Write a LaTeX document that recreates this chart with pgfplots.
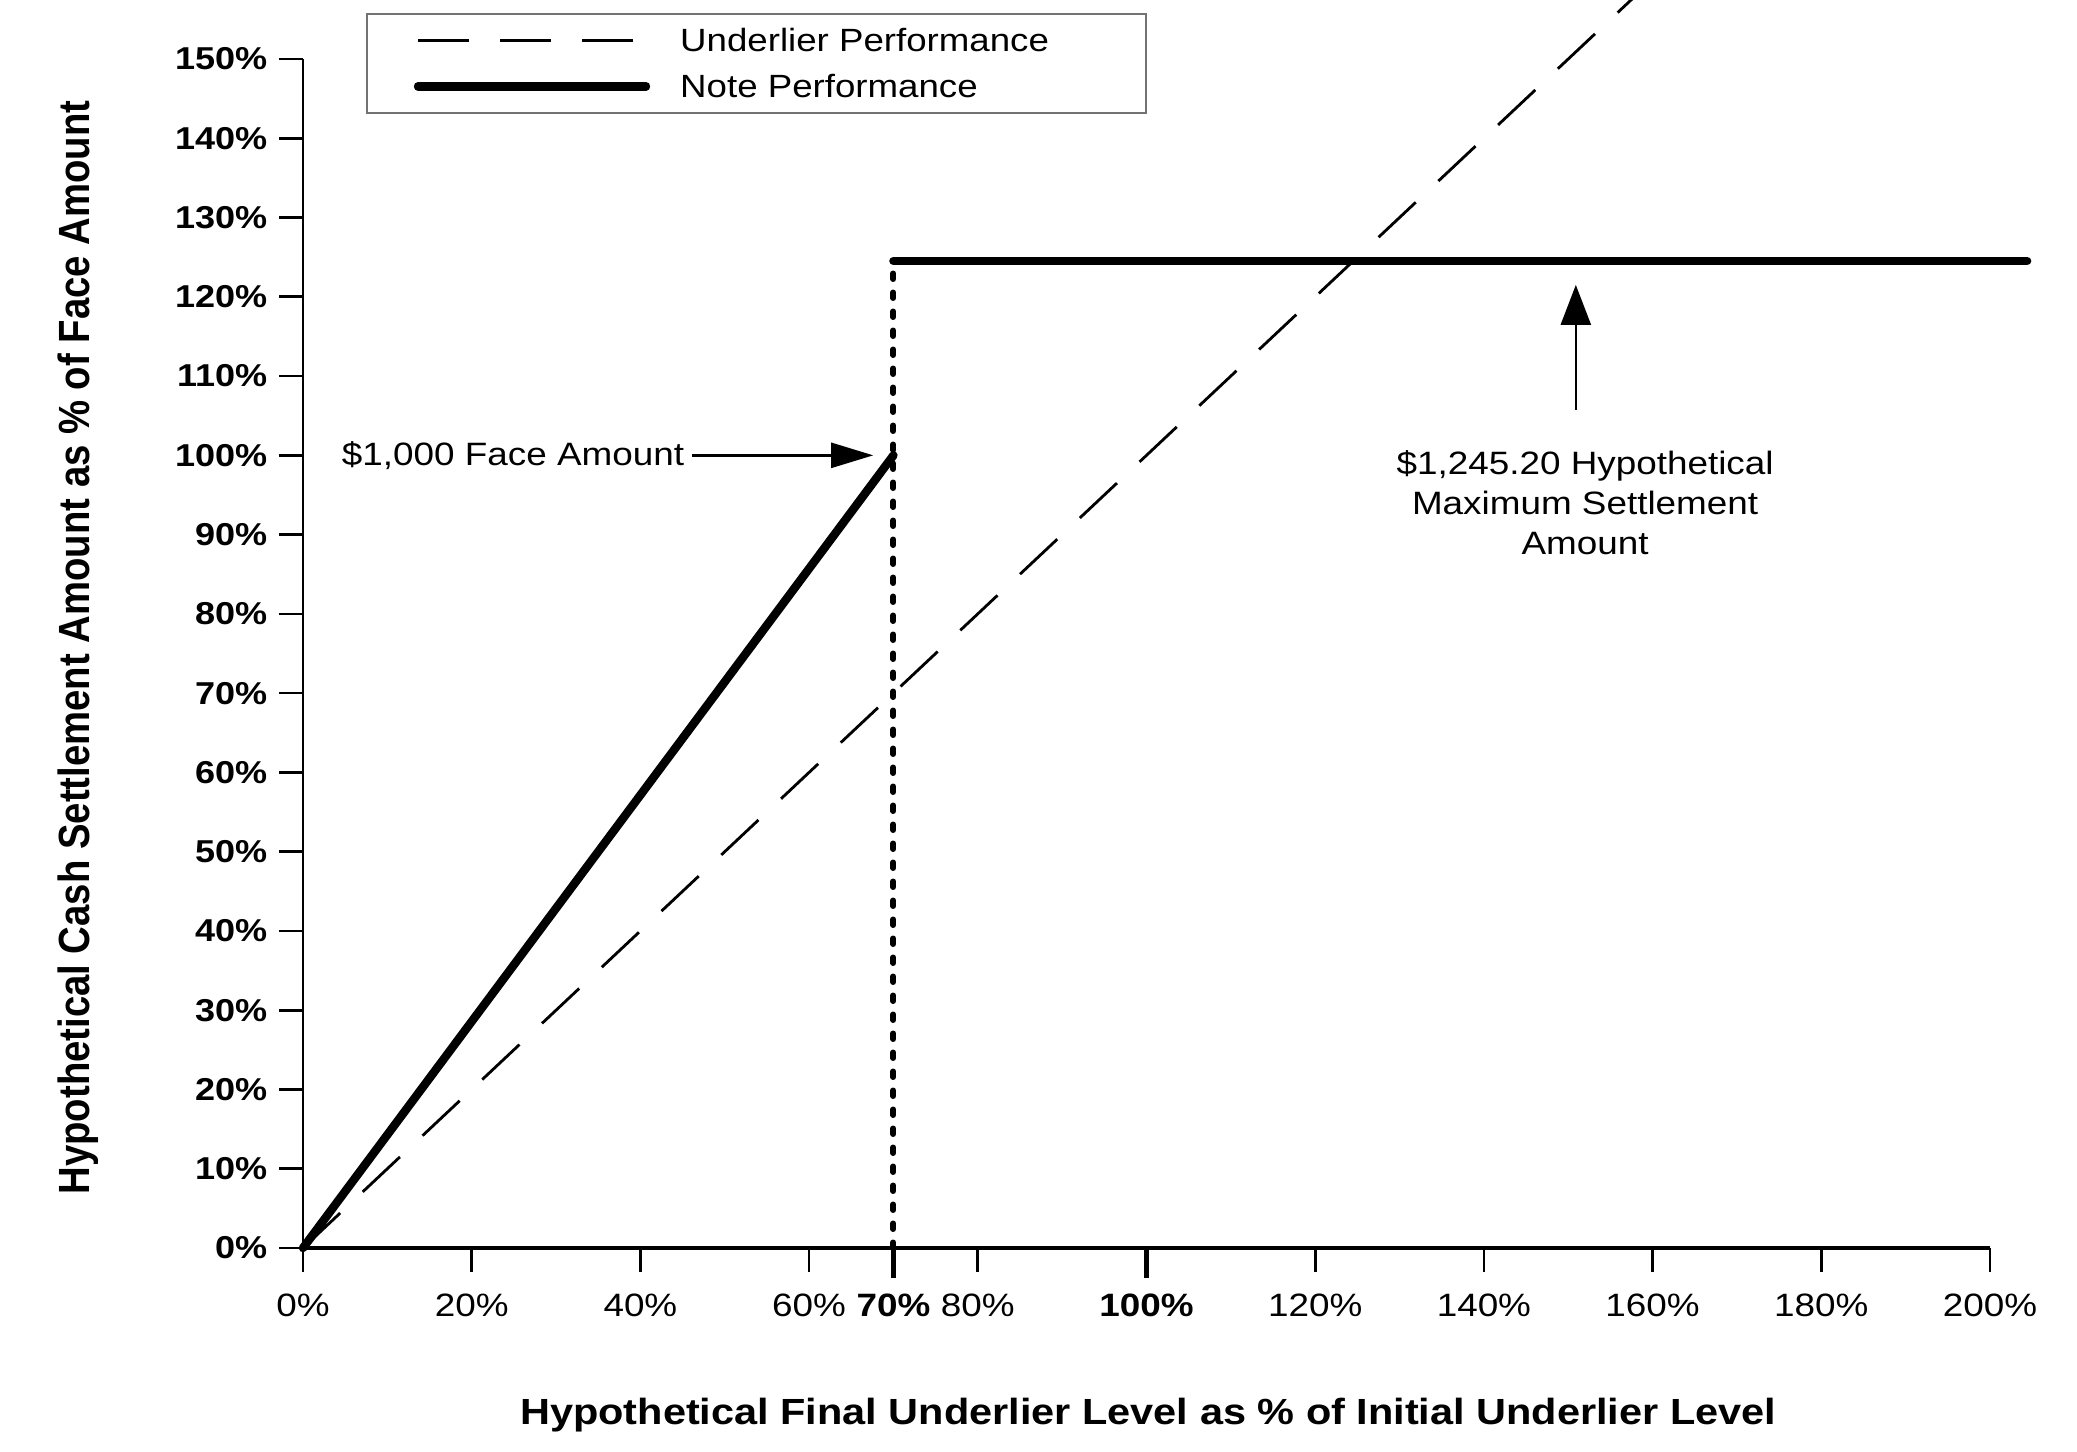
\documentclass[border=0pt]{standalone}
\usepackage{fontspec}
\setmainfont{Liberation Sans}[FakeStretch=1.14]
\usepackage{pgfplots}
\pgfplotsset{compat=1.18}
\usetikzlibrary{arrows.meta}

\begin{document}
\begin{tikzpicture}
\begin{axis}[
  at={(30.3mm,20.3mm)}, anchor=south west,
  scale only axis, width=168.7mm, height=118.9mm,
  xmin=0, xmax=200, ymin=0, ymax=150,
  clip=false,
  axis x line*=bottom, axis y line*=left,
  x axis line style={line width=0.9pt, -},
  y axis line style={line width=0.75pt, -},
  tick align=outside,
  major tick length=2.4mm,
  tick style={black, line width=0.75pt},
  xtick={0,20,40,60,80,120,140,160,180,200},
  xticklabels={0\%,20\%,40\%,60\%,80\%,120\%,140\%,160\%,180\%,200\%},
  extra x ticks={70,100},
  extra x tick labels={\textbf{70\%},\textbf{100\%}},
  extra x tick style={major tick length=3mm, tick style={black, line width=1.6pt}, xticklabel style={yshift=0.6mm}},
  ytick={0,10,20,30,40,50,60,70,80,90,100,110,120,130,140,150},
  yticklabels={0\%,10\%,20\%,30\%,40\%,50\%,60\%,70\%,80\%,90\%,100\%,110\%,120\%,130\%,140\%,150\%},
  xticklabel style={font=\fontsize{9.2}{11}\selectfont, inner sep=0pt, yshift=-2.1mm},
  yticklabel style={font=\bfseries\fontsize{9.0}{11}\selectfont, inner xsep=1.1mm},
  xlabel={Hypothetical Final Underlier Level as \% of Initial Underlier Level},
  xlabel style={font=\bfseries\fontsize{10.35}{12}\selectfont, at={(axis description cs:0.501,-0.1405)}, anchor=center},
  ylabel={\scalebox{0.877}[1.14]{Hypothetical Cash Settlement Amount as \% of Face Amount}},
  ylabel style={font=\bfseries\fontsize{10.9}{13}\selectfont, at={(axis description cs:-0.1334,0.505)}, anchor=center},
  legend style={at={(0.0373,1.0387)}, anchor=north west, draw=black!55, line width=0.5pt,
    inner xsep=4.7mm, inner ysep=0.35mm, fill=white,
    font=\fontsize{9.15}{11}\selectfont,
    nodes={inner sep=0pt, text height=3.46mm, text depth=1.14mm},
    row sep=0pt,
    /tikz/every odd column/.append style={column sep=3.0mm}},
  legend cell align=left,
  legend image code/.code={\draw[#1] (0mm,0mm) -- (22.8mm,0mm);},
]
\addplot[black, line width=0.8pt, dash pattern=on 5.1mm off 3.1mm] coordinates {(0,0) (160,160)};
\addlegendentry{\makebox[41.9mm][l]{Underlier Performance}}
\addplot[black, line width=2.4pt, line cap=round] coordinates {(0,0) (70,100)};
\addlegendentry{\makebox[41.9mm][l]{Note Performance}}
\addplot[forget plot, black, line width=2.4pt, line cap=round] coordinates {(70,124.52) (204.4,124.52)};
\addplot[forget plot, black, line width=1.7pt, line cap=round, dash pattern=on 0.55mm off 1.35mm] coordinates {(70,0) (70,124.52)};

\draw[line width=0.7pt, -{Triangle[length=4.2mm, width=2.5mm]}] (axis cs:46.1,100) -- (axis cs:67.6,100);
\node[anchor=east, inner sep=0.7mm, font=\fontsize{9.2}{11}\selectfont] at (axis cs:46.1,100) {\$1,000 Face Amount};
\draw[line width=0.7pt, -{Triangle[length=4mm, width=3mm]}] (axis cs:150.9,105.7) -- (axis cs:150.9,121.5);
\node[align=center, font=\fontsize{9.2}{11.4}\selectfont] at (axis cs:152.0,94.0) {\$1,245.20 Hypothetical\\Maximum Settlement\\Amount};
\end{axis}
\pgfresetboundingbox
\path (0,0) rectangle (207.7mm,145.1mm);
\end{tikzpicture}
\end{document}
